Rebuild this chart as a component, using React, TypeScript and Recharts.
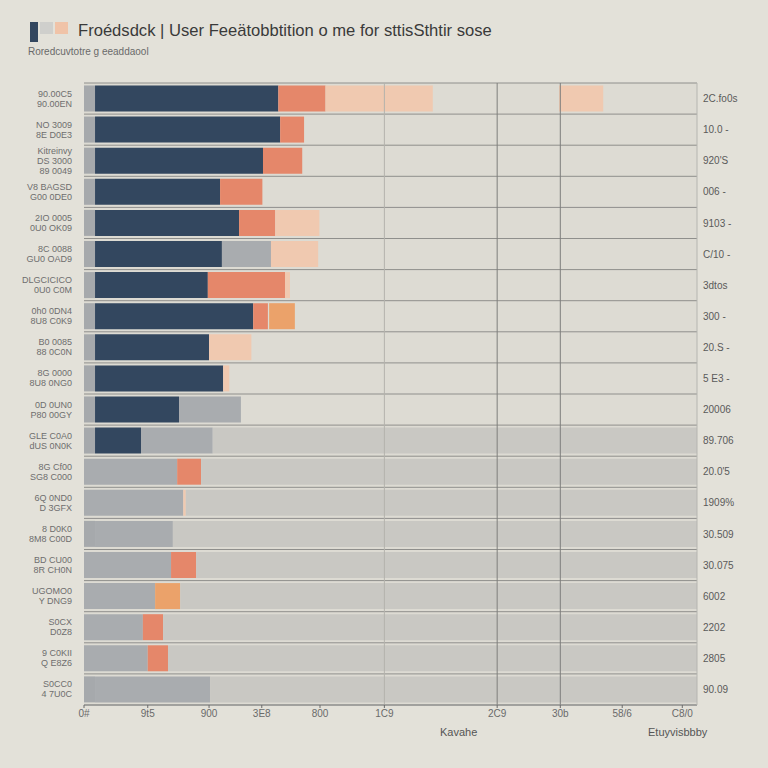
import { BarChart, Bar, XAxis, YAxis, CartesianGrid, ReferenceLine } from "recharts";

// ------------------------------------------------------------------
// Feedback distribution — stacked horizontal bars, 20 rows
// ------------------------------------------------------------------

const rowLabels = [
  "90.00C5\n90.00EN",
  "NO 3009\n8E D0E3",
  "Kitreinvy\nDS 3000\n89 0049",
  "V8 BAGSD\nG00 0DE0",
  "2IO 0005\n0U0 OK09",
  "8C 0088\nGU0 OAD9",
  "DLGCICICO\n0U0 C0M",
  "0h0 0DN4\n8U8 C0K9",
  "B0 0085\n88 0C0N",
  "8G 0000\n8U8 0NG0",
  "0D 0UN0\nP80 00GY",
  "GLE C0A0\ndUS 0N0K",
  "8G Cf00\nSG8 C000",
  "6Q 0ND0\nD 3GFX",
  "8 D0K0\n8M8 C00D",
  "BD CU00\n8R CH0N",
  "UGOMO0\nY DNG9",
  "S0CX\nD0Z8",
  "9 C0KII\nQ E8Z6",
  "S0CC0\n4 7U0C",
];

const rightLabels = [
  "2C.fo0s", "10.0 -", "920'S", "006 -", "9103 -", "C/10 -", "3dtos", "300 -", "20.S -", "5 E3 -",
  "20006", "89.706", "20.0'5", "1909%", "30.509", "30.075", "6002", "2202", "2805", "90.09",
];

// segment widths (share of axis, 0–100)
const stub = [1.8, 1.8, 1.8, 1.8, 1.8, 1.8, 1.8, 1.8, 1.8, 1.8, 1.8, 1.8, 0, 0, 1.8, 0, 0, 0, 0, 1.8];
const navy = [29.9, 30.2, 27.4, 20.4, 23.5, 20.7, 18.4, 25.8, 18.6, 20.9, 13.7, 7.5, 0, 0, 0, 0, 0, 0, 0, 0];
const grey = [0, 0, 0, 0, 0, 8.0, 0, 0, 0, 0, 10.1, 11.7, 15.2, 16.2, 12.7, 14.2, 11.6, 9.6, 10.4, 18.8];
const orange = [7.7, 3.9, 6.4, 6.9, 5.9, 0, 12.6, 2.4, 0, 0, 0, 0, 3.9, 0, 0, 4.1, 0, 3.3, 3.3, 0];
const peach = [17.5, 0, 0, 0, 7.2, 7.7, 0.8, 0, 6.9, 1.0, 0, 0, 0, 0.4, 0, 0, 0, 0, 0, 0];
const gap = [20.6, 0, 0, 0, 0, 0, 0, 0.2, 0, 0, 0, 0, 0, 0, 0, 0, 0, 0, 0, 0];
const amber = [0, 0, 0, 0, 0, 0, 0, 4.2, 0, 0, 0, 0, 0, 0, 0, 0, 4.1, 0, 0, 0];
const peachFar = [7.2, 0, 0, 0, 0, 0, 0, 0, 0, 0, 0, 0, 0, 0, 0, 0, 0, 0, 0, 0];
// rows whose remainder is shaded to the end of the axis
const filledRows = [false, false, false, false, false, false, false, false, false, false, false,
  true, true, true, true, true, true, true, true, true];

const xTicks = [0, 10.4, 20.4, 29, 38.5, 49, 67.4, 77.7, 87.8, 97.6];
const xTickLabels = ["0#", "9t5", "900", "3E8", "800", "1C9", "2C9", "30b", "58/6", "C8/0"];

const data = rowLabels.map((label, i) => {
  const used = stub[i] + navy[i] + grey[i] + orange[i] + peach[i] + gap[i] + amber[i] + peachFar[i];
  return {
    label,
    right: rightLabels[i],
    stub: stub[i],
    navy: navy[i],
    grey: grey[i],
    orange: orange[i],
    peach: peach[i],
    gap: gap[i],
    amber: amber[i],
    peachFar: peachFar[i],
    rest: filledRows[i] ? 100 - used : 0,
  };
});

const FONT = "'Liberation Sans', Arial, sans-serif";

function LeftTick({ x, y, payload }: any) {
  const lines = String(payload.value).split("\n");
  const start = -((lines.length - 1) * 10) / 2 + 3;
  return (
    <text x={x} y={y} textAnchor="end" fontSize={9} fill="#6e6e6e" fontFamily={FONT}>
      {lines.map((l, i) => (
        <tspan key={i} x={x} dy={i === 0 ? start : 10}>
          {l}
        </tspan>
      ))}
    </text>
  );
}

// row separators sit on the band edges of the (evenly split) category axis
function rowEdges({ offset }: any) {
  if (!offset) return [];
  const step = offset.height / rowLabels.length;
  return Array.from({ length: rowLabels.length + 1 }, (_, i) => offset.top + i * step);
}

export default function App() {
  return (
    <div style={pageStyle}>
      <div style={legendWrap}>
        <span style={{ ...swatch, background: "#33475f", width: 8, height: 20 }} />
        <span style={{ ...swatch, background: "#cfcfcc", width: 13, height: 12 }} />
        <span style={{ ...swatch, background: "#f0c3a8", width: 13, height: 12 }} />
      </div>
      <div style={titleStyle}>Froédsdck | User Feeätobbtition o me for sttisSthtir sose</div>
      <div style={subtitleStyle}>Roredcuvtotre g eeaddaool</div>

      <BarChart
        width={768}
        height={768}
        data={data}
        layout="vertical"
        barCategoryGap="8%"
        margin={{ top: 83, right: 11, left: 8, bottom: 33 }}
      >
        <CartesianGrid
          fill="#dddbd3"
          stroke="#8f8f8c"
          horizontalCoordinatesGenerator={rowEdges}
          vertical={false}
        />
        <XAxis
          type="number"
          domain={[0, 100]}
          ticks={xTicks}
          tickFormatter={(v: number) => xTickLabels[xTicks.indexOf(v)] ?? ""}
          tick={{ fontSize: 10, fill: "#6a6a6a", fontFamily: FONT }}
          axisLine={{ stroke: "#8a8a8a" }}
          tickLine={{ stroke: "#6a6a6a" }}
          tickSize={3}
          height={30}
        />
        <YAxis
          type="category"
          dataKey="label"
          width={76}
          tick={<LeftTick />}
          tickLine={false}
          axisLine={false}
          tickMargin={6}
          interval={0}
        />
        <YAxis
          yAxisId="r"
          orientation="right"
          type="category"
          dataKey="right"
          width={60}
          tick={{ fontSize: 10, fill: "#5a5a5a", fontFamily: FONT, textAnchor: "start" }}
          tickLine={false}
          axisLine={{ stroke: "#b5b5b0" }}
          tickMargin={0}
          interval={0}
        />
        <Bar dataKey="stub" stackId="a" fill="#a6a9ac" isAnimationActive={false} />
        <Bar dataKey="navy" stackId="a" fill="#33475f" isAnimationActive={false} />
        <Bar dataKey="grey" stackId="a" fill="#a9acaf" isAnimationActive={false} />
        <Bar dataKey="orange" stackId="a" fill="#e5876a" isAnimationActive={false} />
        <Bar dataKey="peach" stackId="a" fill="#f0c9b0" isAnimationActive={false} />
        <Bar dataKey="gap" stackId="a" fill="transparent" isAnimationActive={false} />
        <Bar dataKey="amber" stackId="a" fill="#eba26a" isAnimationActive={false} />
        <Bar dataKey="peachFar" stackId="a" fill="#f0c9b0" isAnimationActive={false} />
        <Bar dataKey="rest" stackId="a" fill="#c9c8c3" isAnimationActive={false} />
        <ReferenceLine x={49} stroke="#b3b2ac" />
        <ReferenceLine x={67.4} stroke="#7e7e7c" />
        <ReferenceLine x={77.7} stroke="#7e7e7c" />
      </BarChart>

      <div style={{ ...footStyle, left: 440 }}>Kavahe</div>
      <div style={{ ...footStyle, left: 648 }}>Etuyvisbbby</div>
    </div>
  );
}

const pageStyle: React.CSSProperties = {
  position: "fixed",
  left: 0,
  top: 0,
  width: 768,
  height: 768,
  background: "#e3e1d9",
  fontFamily: FONT,
};

const legendWrap: React.CSSProperties = {
  position: "absolute",
  left: 30,
  top: 22,
  display: "flex",
  alignItems: "flex-start",
  gap: 2,
};

const swatch: React.CSSProperties = {
  display: "inline-block",
};

const titleStyle: React.CSSProperties = {
  position: "absolute",
  left: 78,
  top: 21,
  fontSize: 16.6,
  color: "#3a3a3a",
  whiteSpace: "nowrap",
};

const subtitleStyle: React.CSSProperties = {
  position: "absolute",
  left: 28,
  top: 46,
  fontSize: 10,
  color: "#6a6a6a",
  whiteSpace: "nowrap",
};

const footStyle: React.CSSProperties = {
  position: "absolute",
  top: 726,
  fontSize: 11,
  color: "#555",
  whiteSpace: "nowrap",
};
